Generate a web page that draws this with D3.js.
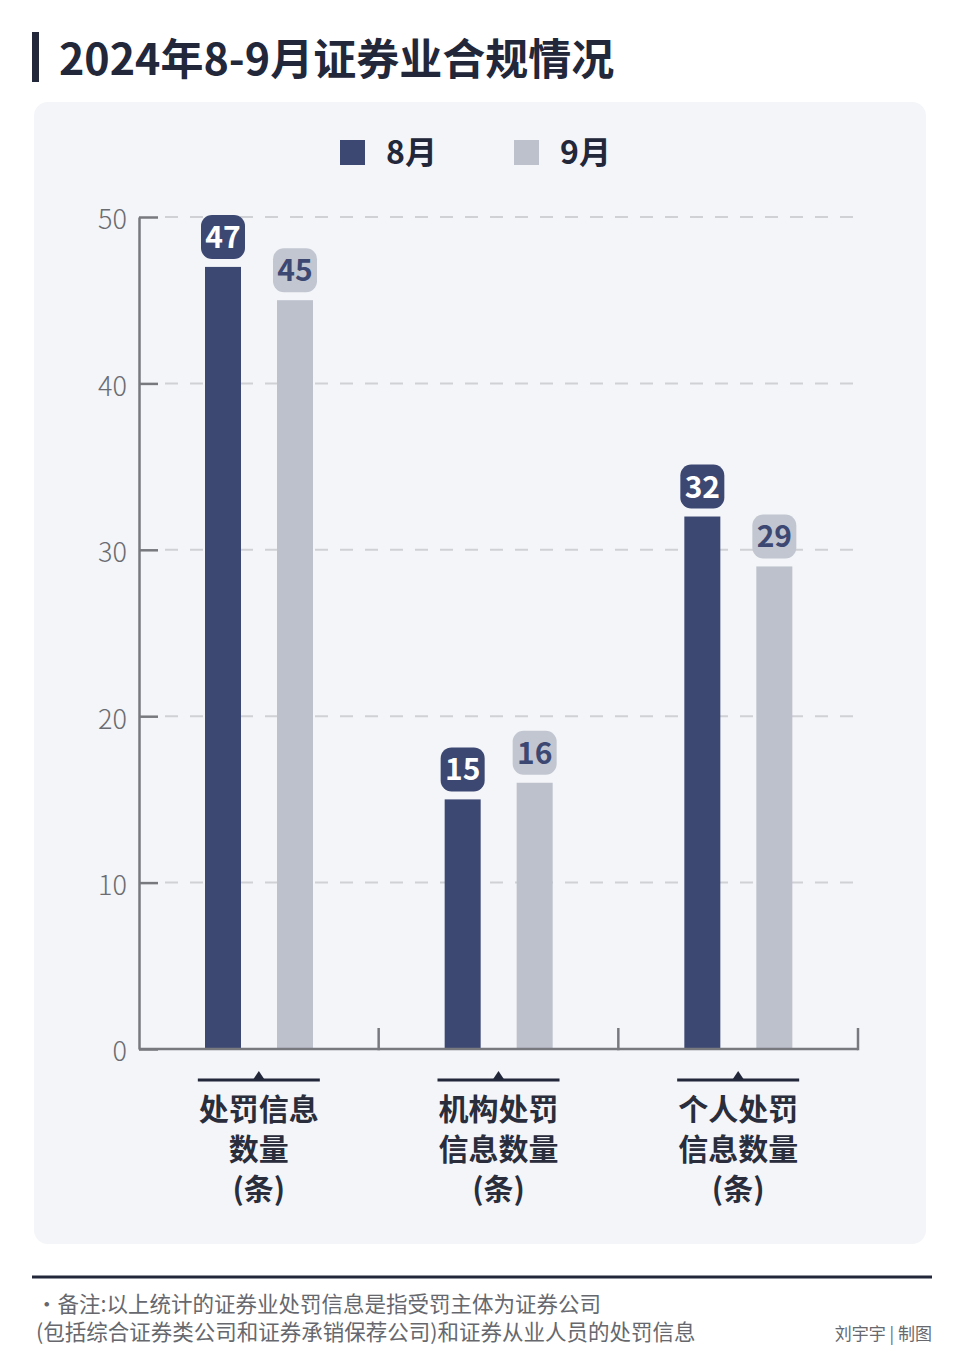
<!doctype html>
<html lang="zh">
<head>
<meta charset="utf-8">
<title>2024年8-9月证券业合规情况</title>
<script src="https://d3js.org/d3.v7.min.js"></script>
<style>
  body { margin: 0; background: #fff; }
  svg text { font-family: "Noto Sans CJK SC", "Noto Sans", sans-serif; }
</style>
</head>
<body>
<script>

// data
var categories = [["处罚信息", "数量", "(条)"], ["机构处罚", "信息数量", "(条)"], ["个人处罚", "信息数量", "(条)"]];
var series = ["8月", "9月"];
var aug = [47, 15, 32];
var sep = [45, 16, 29];
var yTicks = [0, 10, 20, 30, 40, 50];

var colors = { "8月": "#3c4872", "9月": "#bcc1cc" };
var labelBox = { "8月": "#3c4872", "9月": "#c2c6d0" };
var labelText = { "8月": "#ffffff", "9月": "#3c4872" };

var W = 960, H = 1368;
var margin = { left: 139, right: 102, top: 217, bottom: 319 };
var plotW = W - margin.left - margin.right,
    plotH = H - margin.top - margin.bottom;

var svg = d3.select("body").append("svg")
  .attr("width", W)
  .attr("height", H);

// title
svg.append("rect").attr("x", 32).attr("y", 32).attr("width", 7).attr("height", 50).attr("fill", "#23273a");
svg.append("text")
  .attr("x", 59).attr("y", 75)
  .attr("font-size", 43).attr("font-weight", 700).attr("fill", "#23273a")
  .text("2024年8-9月证券业合规情况");

// panel
svg.append("rect")
  .attr("x", 34).attr("y", 102).attr("width", 892).attr("height", 1142)
  .attr("rx", 14).attr("fill", "#f3f5f8");

// legend
var legend = svg.append("g");
var legX = d3.scalePoint().domain(series).range([340, 514]);
series.forEach(function(s) {
  legend.append("rect").attr("x", legX(s)).attr("y", 140).attr("width", 25).attr("height", 25).attr("fill", colors[s]);
  legend.append("text").attr("x", legX(s) + 46).attr("y", 164)
    .attr("font-size", 32).attr("font-weight", 700).attr("fill", "#23273a").text(s);
});

var chart = svg.append("g").attr("transform", "translate(" + margin.left + "," + margin.top + ")");

var x0 = d3.scaleBand().domain(d3.range(categories.length)).range([0, plotW]);
var x1 = d3.scalePoint().domain(series).range([84, 156]);
var y = d3.scaleLinear().domain([0, 50]).range([plotH, 0]);
var barW = 36;

// dashed grid
chart.append("g").selectAll("line")
  .data(yTicks.filter(function(t) { return t > 0; }))
  .enter().append("line")
  .attr("x1", 26).attr("x2", plotW + 4)
  .attr("y1", function(d) { return y(d); }).attr("y2", function(d) { return y(d); })
  .attr("stroke", "#cfd1d5").attr("stroke-width", 2).attr("stroke-dasharray", "13,12");

// y axis
var yAxis = chart.append("g")
  .call(d3.axisLeft(y).tickValues(yTicks).tickSizeInner(-19).tickSizeOuter(0).tickPadding(12));
yAxis.select(".domain").attr("stroke", "#77797f").attr("stroke-width", 2.5);
yAxis.selectAll(".tick line").attr("stroke", "#77797f").attr("stroke-width", 2.5);
yAxis.selectAll(".tick text")
  .attr("font-size", 27).attr("fill", "#6a6c72")
  .attr("font-family", "\"Noto Sans CJK SC\", sans-serif").attr("font-weight", 300)
  .attr("dy", "0.44em");

// bars
var rows = categories.map(function(c, i) { return { i: i, vals: [ { s: "8月", v: aug[i] }, { s: "9月", v: sep[i] } ] }; });
var groups = chart.selectAll(".grp").data(rows).enter().append("g")
  .attr("transform", function(d) { return "translate(" + x0(d.i) + ",0)"; });

groups.selectAll("rect.bar").data(function(d) { return d.vals; }).enter().append("rect")
  .attr("class", "bar")
  .attr("x", function(d) { return x1(d.s) - barW / 2; })
  .attr("y", function(d) { return y(d.v); })
  .attr("width", barW)
  .attr("height", function(d) { return plotH - y(d.v); })
  .attr("fill", function(d) { return colors[d.s]; });

// value badges
var badge = groups.selectAll("g.badge").data(function(d) { return d.vals; }).enter().append("g").attr("class", "badge");
badge.append("rect")
  .attr("x", function(d) { return x1(d.s) - 22; })
  .attr("y", function(d) { return y(d.v) - 52; })
  .attr("width", 44).attr("height", 44).attr("rx", 11)
  .attr("fill", function(d) { return labelBox[d.s]; });
badge.append("text")
  .attr("x", function(d) { return x1(d.s); })
  .attr("y", function(d) { return y(d.v) - 19; })
  .attr("text-anchor", "middle")
  .attr("font-size", 30).attr("font-weight", 700)
  .attr("fill", function(d) { return labelText[d.s]; })
  .text(function(d) { return d.v; });

// x baseline and group ticks
chart.append("line").attr("x1", 0).attr("x2", plotW).attr("y1", plotH).attr("y2", plotH)
  .attr("stroke", "#77797f").attr("stroke-width", 2.5);
chart.append("g").selectAll("line").data(d3.range(categories.length)).enter().append("line")
  .attr("x1", function(d) { return x0(d) + x0.bandwidth(); })
  .attr("x2", function(d) { return x0(d) + x0.bandwidth(); })
  .attr("y1", plotH - 21).attr("y2", plotH + 1.25)
  .attr("stroke", "#77797f").attr("stroke-width", 2.5);

// category labels
var cat = chart.selectAll(".cat").data(categories).enter().append("g")
  .attr("transform", function(d, i) { return "translate(" + (x0(i) + x0.bandwidth() / 2) + "," + (plotH + 31) + ")"; });
cat.append("line").attr("x1", -61).attr("x2", 61).attr("y1", 0).attr("y2", 0)
  .attr("stroke", "#23273a").attr("stroke-width", 3);
cat.append("path").attr("d", "M-6,0L0,-9L6,0Z").attr("fill", "#23273a");
cat.each(function(lines) {
  var g = d3.select(this);
  lines.forEach(function(t, k) {
    g.append("text").attr("x", 0).attr("y", 40 + k * 40)
      .attr("text-anchor", "middle").attr("font-size", 30).attr("font-weight", 700)
      .attr("fill", "#2a2d3b").text(t);
  });
});

// footer
svg.append("line").attr("x1", 32).attr("x2", 932).attr("y1", 1277).attr("y2", 1277)
  .attr("stroke", "#23273a").attr("stroke-width", 3);
svg.append("text").attr("x", 36).attr("y", 1312).attr("font-size", 21.5).attr("fill", "#66686e")
  .text("·备注:以上统计的证券业处罚信息是指受罚主体为证券公司");
svg.append("text").attr("x", 36).attr("y", 1340).attr("font-size", 21.5).attr("fill", "#66686e")
  .text("(包括综合证券类公司和证券承销保荐公司)和证券从业人员的处罚信息");
svg.append("text").attr("x", 932).attr("y", 1340).attr("text-anchor", "end").attr("font-size", 17).attr("fill", "#66686e")
  .text("刘宇宇 | 制图");

</script>
</body>
</html>
